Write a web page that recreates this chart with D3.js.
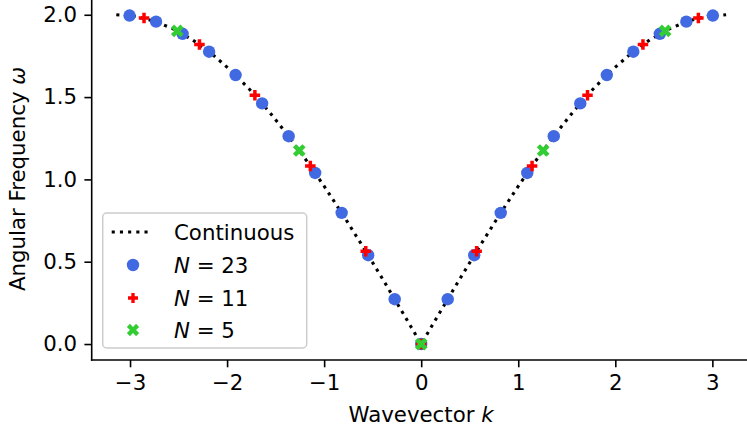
<!DOCTYPE html>
<html>
<head>
<meta charset="utf-8">
<script src="https://cdn.jsdelivr.net/npm/d3@7"></script>
<style>
  body { margin: 0; background: #fff; }
  text { font-family: "DejaVu Sans", sans-serif; fill: #000; }
</style>
</head>
<body>
<div id="chart"></div>
<script>
// continuous dispersion curve, sampled
var contK = [-3.14159,-2.94524,-2.74889,-2.55254,-2.35619,-2.15984,-1.96350,-1.76715,-1.57080,-1.37445,-1.17810,-0.98175,-0.78540,-0.58905,-0.39270,-0.19635,
  0,0.19635,0.39270,0.58905,0.78540,0.98175,1.17810,1.37445,1.57080,1.76715,1.96350,2.15984,2.35619,2.55254,2.74889,2.94524,3.14159];
var contW = [2.00000,1.99037,1.96157,1.91388,1.84776,1.76384,1.66294,1.54602,1.41421,1.26879,1.11114,0.94279,0.76537,0.58057,0.39018,0.19603,
  0,0.19603,0.39018,0.58057,0.76537,0.94279,1.11114,1.26879,1.41421,1.54602,1.66294,1.76384,1.84776,1.91388,1.96157,1.99037,2.00000];

// N = 23
var k23 = [-3.00500,-2.73182,-2.45864,-2.18546,-1.91227,-1.63909,-1.36591,-1.09273,-0.81955,-0.54636,-0.27318,
  0,0.27318,0.54636,0.81955,1.09273,1.36591,1.63909,1.91227,2.18546,2.45864,2.73182,3.00500];
var w23 = [1.99534,1.95817,1.88452,1.77577,1.63394,1.46167,1.26218,1.03917,0.79680,0.53959,0.27233,
  0,0.27233,0.53959,0.79680,1.03917,1.26218,1.46167,1.63394,1.77577,1.88452,1.95817,1.99534];

// N = 11
var k11 = [-2.85599,-2.28479,-1.71360,-1.14240,-0.57120,0,0.57120,1.14240,1.71360,2.28479,2.85599];
var w11 = [1.97964,1.81926,1.51150,1.08128,0.56347,0,0.56347,1.08128,1.51150,1.81926,1.97964];

// N = 5
var k5 = [-2.51327,-1.25664,0,1.25664,2.51327];
var w5 = [1.90211,1.17557,0,1.17557,1.90211];

var xTicks = [-3,-2,-1,0,1,2,3];
var yTicks = [0.0,0.5,1.0,1.5,2.0];

var width = 747, height = 434;
var fontSize = 21.3;

var svg = d3.select("#chart").append("svg")
  .attr("width", width)
  .attr("height", height);

var x = d3.scaleLinear().domain([-3.395, 3.395]).range([91.7, 750.7]);
var y = d3.scaleLinear().domain([-0.1, 2.1]).range([360.5, -1.7]);

function zip(a, b) { return a.map(function(v, i) { return [v, b[i]]; }); }

// filled plus marker path (matplotlib "P")
function plusPath(s) {
  var a = s / 2, t = s / 6;
  return "M" + [-t,-a] + "L" + [t,-a] + "L" + [t,-t] + "L" + [a,-t] + "L" + [a,t] + "L" + [t,t] +
    "L" + [t,a] + "L" + [-t,a] + "L" + [-t,t] + "L" + [-a,t] + "L" + [-a,-t] + "L" + [-t,-t] + "Z";
}

// continuous line
var line = d3.line()
  .x(function(d) { return x(d[0]); })
  .y(function(d) { return y(d[1]); });

svg.append("path")
  .datum(zip(contK, contW))
  .attr("d", line)
  .attr("fill", "none")
  .attr("stroke", "#000")
  .attr("stroke-width", 3.1)
  .attr("stroke-dasharray", "3.1,5.1");

// N = 23 circles
svg.selectAll(".p23")
  .data(zip(k23, w23))
  .enter().append("circle")
  .attr("class", "p23")
  .attr("cx", function(d) { return x(d[0]); })
  .attr("cy", function(d) { return y(d[1]); })
  .attr("r", 6.2)
  .attr("fill", "royalblue");

// N = 11 plus
svg.selectAll(".p11")
  .data(zip(k11, w11))
  .enter().append("path")
  .attr("class", "p11")
  .attr("d", plusPath(10.5))
  .attr("transform", function(d) { return "translate(" + x(d[0]) + "," + y(d[1]) + ")"; })
  .attr("fill", "red");

// N = 5 x
svg.selectAll(".p5")
  .data(zip(k5, w5))
  .enter().append("path")
  .attr("class", "p5")
  .attr("d", plusPath(13.5))
  .attr("transform", function(d) { return "translate(" + x(d[0]) + "," + y(d[1]) + ")rotate(45)"; })
  .attr("fill", "limegreen");

// axes
var xAxis = svg.append("g")
  .attr("transform", "translate(0," + 360 + ")")
  .call(d3.axisBottom(x).tickValues(xTicks).tickSize(7.3).tickPadding(7.3)
    .tickFormat(function(d) { return d < 0 ? "\u2212" + Math.abs(d) : d; }));

var yAxis = svg.append("g")
  .attr("transform", "translate(" + 91.7 + ",0)")
  .call(d3.axisLeft(y).tickValues(yTicks).tickSize(7.3).tickPadding(7.3)
    .tickFormat(d3.format(".1f")));

[xAxis, yAxis].forEach(function(g) {
  g.select(".domain").attr("stroke-width", 1.6);
  g.selectAll(".tick line").attr("stroke-width", 1.6);
  g.selectAll(".tick text").style("font-size", fontSize + "px").attr("fill", "#000");
  g.attr("font-family", null).attr("font-size", null);
});
xAxis.select(".domain").attr("d", "M90.9,0H760");
yAxis.select(".domain").attr("d", "M0,-5V360.8");

// axis labels
var xl = svg.append("text")
  .attr("x", 421)
  .attr("y", 422)
  .attr("text-anchor", "middle")
  .style("font-size", fontSize + "px");
xl.append("tspan").text("Wavevector ");
xl.append("tspan").style("font-style", "italic").text("k");

var yl = svg.append("text")
  .attr("transform", "translate(25,179)rotate(-90)")
  .attr("text-anchor", "middle")
  .style("font-size", fontSize + "px");
yl.append("tspan").text("Angular Frequency ");
yl.append("tspan").style("font-style", "italic").text("\u03c9");

// legend
var legend = svg.append("g");
legend.append("rect")
  .attr("x", 102.7).attr("y", 213)
  .attr("width", 204).attr("height", 135)
  .attr("rx", 4)
  .attr("fill", "#fff").attr("fill-opacity", 0.8)
  .attr("stroke", "#cccccc").attr("stroke-width", 1.5);

var rows = [232, 265, 298, 330];
legend.append("line")
  .attr("x1", 111.7).attr("x2", 152).attr("y1", rows[0]).attr("y2", rows[0])
  .attr("stroke", "#000").attr("stroke-width", 3.1).attr("stroke-dasharray", "3.1,5.1");
legend.append("circle").attr("cx", 133).attr("cy", rows[1]).attr("r", 6.2).attr("fill", "royalblue");
legend.append("path").attr("d", plusPath(10)).attr("transform", "translate(133," + rows[2] + ")").attr("fill", "red");
legend.append("path").attr("d", plusPath(13)).attr("transform", "translate(133," + rows[3] + ")rotate(45)").attr("fill", "limegreen");

legend.append("text").attr("x", 174).attr("y", rows[0]).attr("dy", "0.36em")
  .style("font-size", fontSize + "px").text("Continuous");

["23", "11", "5"].forEach(function(n, i) {
  var t = legend.append("text").attr("x", 174).attr("y", rows[i + 1]).attr("dy", "0.36em")
    .style("font-size", fontSize + "px");
  t.append("tspan").style("font-style", "italic").text("N");
  t.append("tspan").text(" = " + n);
});
</script>
</body>
</html>
